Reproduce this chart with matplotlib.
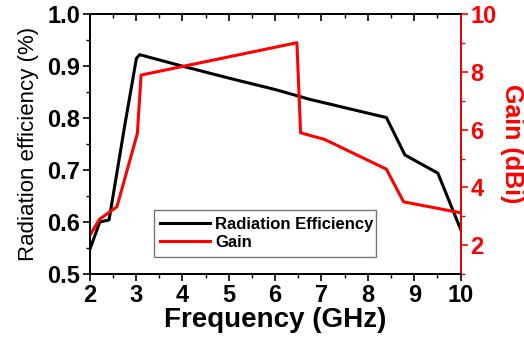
import numpy as np
from matplotlib import pyplot as plt

# efficiency curve (left axis)
EFF_FREQ = [2.0, 2.22, 2.42, 2.76, 3.01, 3.08, 4.0, 5.0, 6.0, 6.75, 8.4, 8.8, 9.51, 10.0]
EFF_VALS = [0.546, 0.600, 0.604, 0.787, 0.915, 0.922, 0.900, 0.877, 0.855, 0.836, 0.801, 0.729, 0.694, 0.586]

# gain curve (right axis)
GAIN_FREQ = [2.0, 2.21, 2.59, 3.03, 3.11, 6.47, 6.55, 7.07, 8.40, 8.77, 10.0]
GAIN_VALS = [2.32, 2.89, 3.33, 5.87, 7.89, 9.01, 5.89, 5.66, 4.63, 3.50, 3.12]

X_TICKS = [2, 3, 4, 5, 6, 7, 8, 9, 10]
EFF_TICKS = [0.5, 0.6, 0.7, 0.8, 0.9, 1.0]
GAIN_TICKS = [2, 4, 6, 8, 10]

plt.rcParams['font.family'] = ['Liberation Sans', 'DejaVu Sans']

fig = plt.figure(figsize=(5.24, 3.37), dpi=100)
ax1 = fig.add_axes([0.171, 0.187, 0.708, 0.771])
ax2 = ax1.twinx()

l1, = ax1.plot(EFF_FREQ, EFF_VALS, color='black', lw=2.2, label='Radiation Efficiency')
l2, = ax2.plot(GAIN_FREQ, GAIN_VALS, color='#ff0000', lw=2.2, label='Gain')

ax1.set_xlim(2, 10)
ax1.set_ylim(0.5, 1.0)
ax2.set_ylim(1, 10)

ax1.set_xticks(X_TICKS)
ax1.set_xticks(np.arange(2, 10.01, 0.5), minor=True)
ax1.set_yticks(EFF_TICKS)
ax1.set_yticklabels(['%.1f' % v for v in EFF_TICKS])
ax1.set_yticks(np.arange(0.5, 1.001, 0.05), minor=True)
ax2.set_yticks(GAIN_TICKS)
ax2.set_yticks(np.arange(1, 10.01, 1), minor=True)

for lab in ax1.get_xticklabels() + ax1.get_yticklabels():
    lab.set_fontweight('bold')
    lab.set_fontsize(17)
for lab in ax2.get_yticklabels():
    lab.set_fontweight('bold')
    lab.set_fontsize(17)
    lab.set_color('#ff0000')

ax1.tick_params(axis='both', which='major', length=5, width=1.2, pad=2)
ax1.tick_params(axis='both', which='minor', length=3, width=1.0)
ax2.tick_params(axis='y', which='major', length=5, width=1.2, colors='#ff0000', pad=2)
ax2.tick_params(axis='y', which='minor', length=3, width=1.0, colors='#ff0000')

# top ticks point inward, no labels
top = ax1.secondary_xaxis('top')
top.set_xticks(X_TICKS)
top.set_xticks(np.arange(2, 10.01, 0.5), minor=True)
top.tick_params(axis='x', which='major', direction='in', length=5, width=1.2, labeltop=False)
top.tick_params(axis='x', which='minor', direction='in', length=3, width=1.0)
top.spines['top'].set_linewidth(1.3)

for sp in ax1.spines.values():
    sp.set_linewidth(1.3)
for sp in ax2.spines.values():
    sp.set_linewidth(1.3)
ax2.spines['right'].set_color('#ff0000')

ax1.set_xlabel('Frequency (GHz)', fontsize=20, fontweight='bold', labelpad=0)
ax1.set_ylabel('Radiation efficiency (%)', fontsize=16, labelpad=6)
ax2.set_ylabel('Gain (dBi)', fontsize=18, fontweight='bold', color='#ff0000',
               rotation=270, labelpad=20)

leg = ax1.legend([l1, l2], ['Radiation Efficiency', 'Gain'], loc='lower left',
                 bbox_to_anchor=(0.173, 0.067, 0.6, 0.177), mode='expand',
                 prop={'weight': 'bold', 'size': 12}, fancybox=False,
                 handlelength=3.0, borderpad=0.4, labelspacing=0.2,
                 handletextpad=0.3, borderaxespad=0)
leg.get_frame().set_edgecolor('#555555')
leg.get_frame().set_linewidth(1.0)

fig.savefig('out.png', dpi=100)
